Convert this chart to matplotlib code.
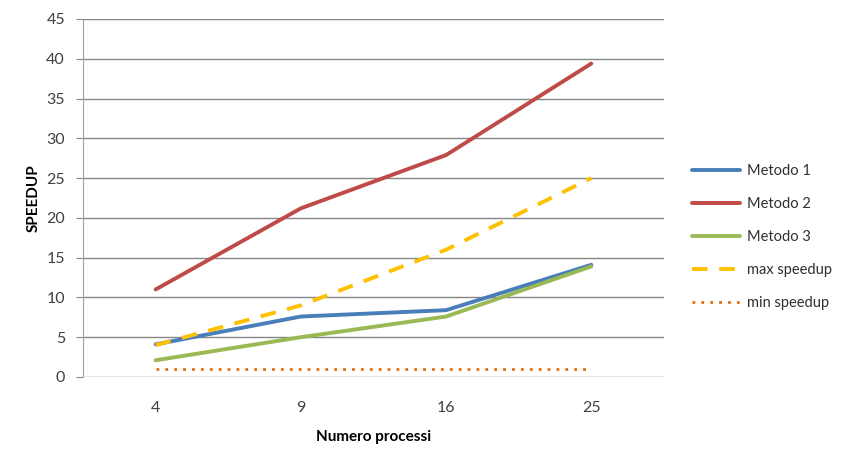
import matplotlib.pyplot as plt

plt.rcParams["font.family"] = ["Lato", "DejaVu Sans"]

processi = ["4", "9", "16", "25"]
metodo1 = [4.1, 7.6, 8.4, 14.1]
metodo2 = [11.0, 21.2, 27.9, 39.4]
metodo3 = [2.1, 5.0, 7.6, 13.9]
max_speedup = [4, 9, 16, 25]
min_speedup = [1, 1, 1, 1]

fig = plt.figure(figsize=(8.41, 4.49), dpi=100)
ax = fig.add_axes([0.0987, 0.1604, 0.6908, 0.7973])

x = [i + 0.5 for i in range(len(processi))]
ax.plot(x, metodo1, color="#4A7EBB", lw=2.8, label="Metodo 1", solid_capstyle="round")
ax.plot(x, metodo2, color="#BE4B48", lw=2.8, label="Metodo 2", solid_capstyle="round")
ax.plot(x, metodo3, color="#98B954", lw=2.8, label="Metodo 3", solid_capstyle="round")
ax.plot(x, max_speedup, color="#FFC000", lw=2.8, dashes=(4, 3), label="max speedup")
ax.plot(x, min_speedup, color="#E46C0A", lw=2.0, dashes=(1, 2.2), label="min speedup")

ax.set_xlim(0, len(processi))
ax.set_ylim(0, 45)
ax.set_yticks(range(0, 46, 5))
ax.set_xticks(x)
ax.set_xticklabels(processi)
ax.yaxis.grid(True, color="#868686", lw=1)
ax.set_axisbelow(True)
for s in ["top", "right", "bottom"]:
    ax.spines[s].set_visible(False)
ax.spines["left"].set_color("#A0A0A0")
ax.tick_params(axis="y", length=5, color="#868686", labelsize=11.5, labelcolor="#404040", pad=8)
ax.tick_params(axis="x", length=0, labelsize=11.5, labelcolor="#404040", pad=17)

ax.set_ylabel("SPEEDUP", fontsize=11, fontweight="bold", labelpad=4)
ax.set_xlabel("Numero processi", fontsize=11, fontweight="bold", labelpad=11)

ax.legend(loc="center left", bbox_to_anchor=(1.048, 0.39), frameon=False,
          fontsize=10.5, handlelength=3.3, handletextpad=0.45, labelspacing=1.3,
          borderaxespad=0, borderpad=0, labelcolor="#303030")

fig.savefig("out.png")
